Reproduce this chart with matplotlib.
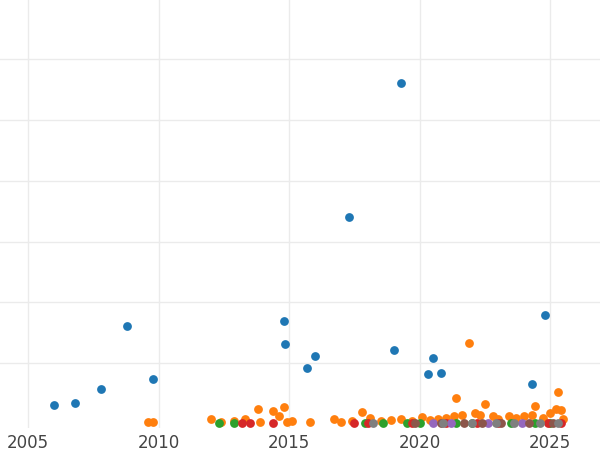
import matplotlib
matplotlib.use("Agg")
import matplotlib.pyplot as plt

blue_x = [2006.0, 2006.8, 2007.8, 2008.8, 2009.8, 2014.8, 2014.85, 2015.7, 2016.0, 2017.3, 2019.0, 2019.3, 2020.3, 2020.5, 2020.8, 2024.3, 2024.8]
blue_y = [0.31, 0.34, 0.57, 1.61, 0.74, 1.69, 1.31, 0.92, 1.11, 3.41, 1.21, 5.62, 0.82, 1.08, 0.84, 0.66, 1.79]

orange_x = [2009.6, 2009.8, 2012.0, 2012.4, 2012.9, 2013.3, 2013.8, 2013.9, 2014.4, 2014.6, 2014.8, 2014.9, 2015.1, 2015.8, 2016.7, 2017.0, 2017.4, 2017.8, 2018.1, 2018.5, 2018.9, 2019.3, 2019.7, 2020.1, 2020.4, 2020.7, 2021.0, 2021.3, 2021.4, 2021.6, 2021.9, 2022.1, 2022.3, 2022.5, 2022.8, 2023.0, 2023.4, 2023.7, 2024.0, 2024.3, 2024.4, 2024.7, 2025.0, 2025.2, 2025.3, 2025.4, 2025.5]
orange_y = [0.02, 0.02, 0.07, 0.02, 0.04, 0.08, 0.25, 0.03, 0.21, 0.12, 0.27, 0.02, 0.05, 0.02, 0.08, 0.03, 0.05, 0.20, 0.10, 0.04, 0.06, 0.07, 0.05, 0.11, 0.06, 0.08, 0.09, 0.12, 0.43, 0.15, 1.33, 0.18, 0.14, 0.33, 0.12, 0.08, 0.12, 0.10, 0.13, 0.15, 0.29, 0.09, 0.18, 0.25, 0.52, 0.22, 0.07]

green_x = [2012.3, 2012.9, 2017.9, 2018.6, 2019.5, 2020.0, 2021.4, 2022.0, 2023.5, 2024.4, 2025.0]
green_y = [0.01] * 11

red_x = [2013.2, 2013.5, 2014.4, 2017.5, 2018.0, 2019.7, 2021.0, 2022.2, 2023.0, 2024.9, 2025.4]
red_y = [0.01] * 11

purple_x = [2020.5, 2021.2, 2022.6, 2023.9]
purple_y = [0.01] * 4

brown_x = [2019.8, 2020.8, 2021.7, 2022.4, 2023.1, 2024.2, 2025.1]
brown_y = [0.01] * 7

gray_x = [2018.2, 2020.9, 2022.0, 2022.9, 2023.6, 2024.6, 2025.3]
gray_y = [0.01] * 7

fig = plt.figure(figsize=(6, 4.5), dpi=100)
ax = fig.add_axes([0, 0.049, 1, 0.951])
ax.set_xlim(2003.93, 2026.9)
ax.set_ylim(-0.07, 6.98)
for s in ax.spines.values():
    s.set_visible(False)
ax.set_xticks([2005, 2010, 2015, 2020, 2025])
ax.set_yticks([1, 2, 3, 4, 5, 6])
ax.set_yticklabels([])
ax.tick_params(length=0, labelsize=12, labelcolor="#444444", pad=4)
ax.grid(True, color="#ebebeb", linewidth=1)
ax.set_axisbelow(True)
kw = dict(s=40, zorder=3, clip_on=False, linewidths=0)
ax.scatter(orange_x, orange_y, color="#ff7f0e", **kw)
ax.scatter(green_x, green_y, color="#2ca02c", **kw)
ax.scatter(red_x, red_y, color="#d62728", **kw)
ax.scatter(purple_x, purple_y, color="#9467bd", **kw)
ax.scatter(brown_x, brown_y, color="#8c564b", **kw)
ax.scatter(gray_x, gray_y, color="#7f7f7f", **kw)
ax.scatter(blue_x, blue_y, color="#1f77b4", **kw)
fig.savefig("out.png")
